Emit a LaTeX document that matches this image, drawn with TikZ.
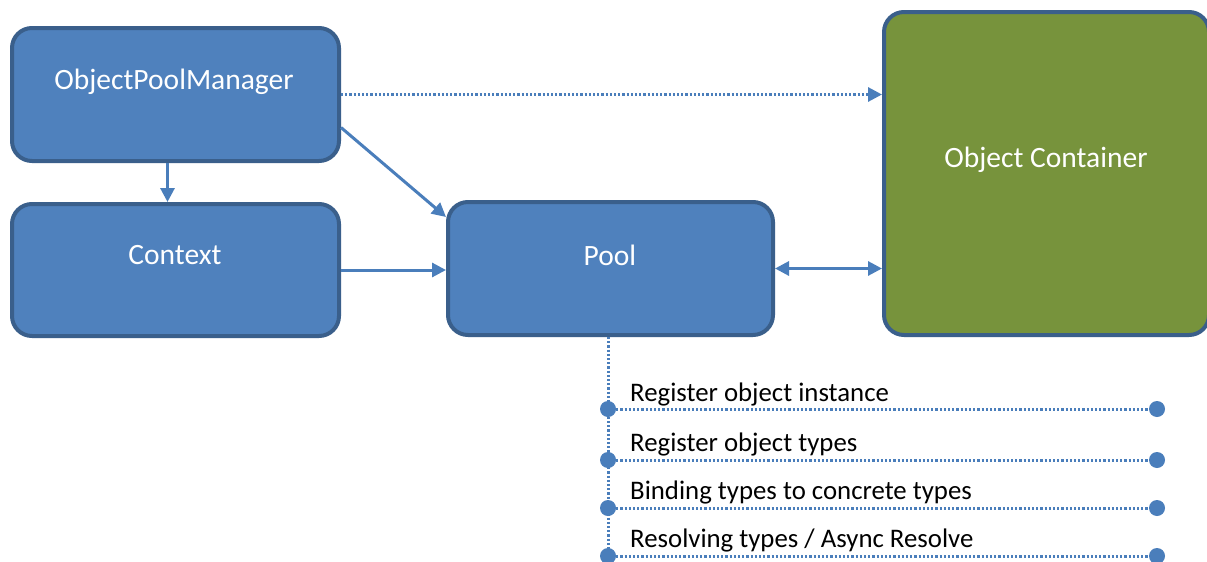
\documentclass[tikz,border=0pt]{standalone}
\usepackage{fontspec}
\setmainfont{Carlito}
\usetikzlibrary{arrows.meta,calc}
\definecolor{boxfill}{HTML}{4F81BD}
\definecolor{boxline}{HTML}{3A5F8B}
\definecolor{ocfill}{HTML}{77933C}
\definecolor{arrcol}{HTML}{4A7EBB}
\begin{document}
\begin{tikzpicture}[x=1pt,y=-1pt,
  box/.style={draw=boxline, line width=4pt, fill=boxfill, rounded corners=20pt, inner sep=0pt},
  greenbox/.style={box, fill=ocfill},
  boxlabel/.style={text=white, font=\fontsize{29.5}{34}\selectfont, inner sep=0pt},
  itemlabel/.style={text=black, font=\fontsize{26.8}{31}\selectfont, inner sep=0pt},
  conn/.style={draw=arrcol, line width=3pt, -{Triangle[length=14pt,width=14pt]}},
  dconn/.style={conn, dash pattern=on 2.2pt off 2pt},
  biconn/.style={draw=arrcol, line width=3pt, {Triangle[length=14pt,width=14pt]}-{Triangle[length=14pt,width=14pt]}},
  dotline/.style={draw=arrcol, line width=3pt, dash pattern=on 2.2pt off 2pt},
  dotnode/.style={circle, fill=arrcol, minimum size=16pt, inner sep=0pt}
]
\useasboundingbox (0,0) rectangle (1207,562);
\fill[white] (0,0) rectangle (1207,562);

\node[box, minimum width=327pt, minimum height=133pt] (opm) at (175.5,94.5) {};
\node[box, minimum width=327pt, minimum height=132pt] (ctx) at (175.5,270) {};
\node[box, minimum width=325pt, minimum height=133pt] (pool) at (610.5,268.5) {};
\node[greenbox, minimum width=325pt, minimum height=323pt] (oc) at (1046.5,173.5) {};

\node[boxlabel] (opmt) at (174,82) {ObjectPoolManager};
\node[boxlabel] (ctxt) at (175,255) {Context};
\node[boxlabel] (poolt) at (610,255) {Pool};
\node[boxlabel] (oct) at (1046,160) {Object Container};

\draw[dconn] (opm.east) -- (opm.east -| oc.west);
\draw[conn] ($(opm.east)+(0,33)$) -- ($(pool.north west)+(0,17)$);
\draw[conn] ($(opm.south)+(-8,0)$) -- ($(ctx.north)+(-8,0)$);
\draw[conn] (ctx.east) -- (ctx.east -| pool.west);
\draw[biconn] (pool.east) -- (pool.east -| oc.west);

\node[dotnode] (l1) at (608,409) {};
\node[dotnode] (r1) at (1157,409) {};
\node[dotnode] (l2) at (608,460) {};
\node[dotnode] (r2) at (1157,460) {};
\node[dotnode] (l3) at (608,508) {};
\node[dotnode] (r3) at (1157,508) {};
\node[dotnode] (l4) at (608,556) {};
\node[dotnode] (r4) at (1157,556) {};
\coordinate (vend) at (608,562);

\draw[dotline] (pool.south -| l1) -- (vend);
\draw[dotline] (l1) -- (r1);
\draw[dotline] (l2) -- (r2);
\draw[dotline] (l3) -- (r3);
\draw[dotline] (l4) -- (r4);

\node[itemlabel, anchor=base west] (t1) at (630,401) {Register object instance};
\node[itemlabel, anchor=base west] (t2) at (630,451) {Register object types};
\node[itemlabel, anchor=base west] (t3) at (630,499) {Binding types to concrete types};
\node[itemlabel, anchor=base west] (t4) at (630,547) {Resolving types / Async Resolve};
\end{tikzpicture}
\end{document}
